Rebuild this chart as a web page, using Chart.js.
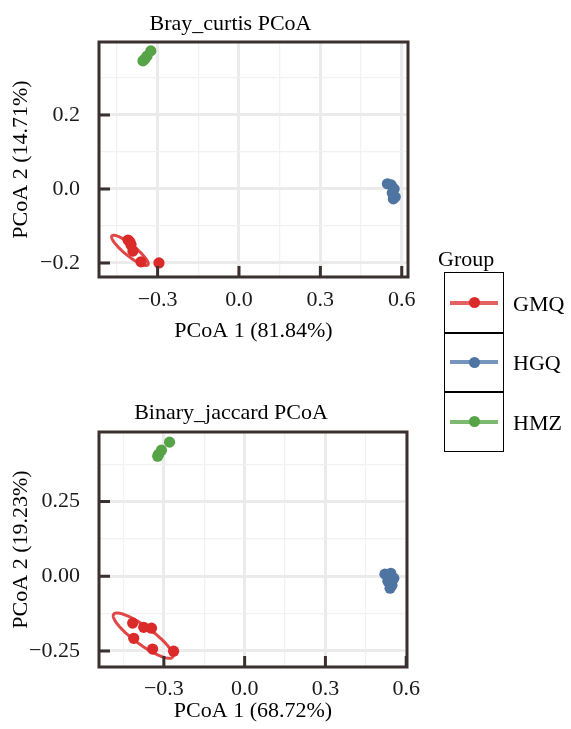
<!DOCTYPE html>
<html><head><meta charset="utf-8">
<script src="https://cdn.jsdelivr.net/npm/chart.js@4.4.0/dist/chart.umd.min.js"></script>
<style>
html,body{margin:0;padding:0;background:#fff;width:571px;height:729px;overflow:hidden;position:relative;font-family:"Liberation Serif",serif;}
canvas{position:absolute;left:0;}
#c1{top:0px;}
#c2{top:390px;}
.lg{position:absolute;font-size:22px;line-height:22px;height:22px;color:#000;white-space:nowrap;font-family:"Liberation Serif",serif;}
.abs{position:absolute;}
</style></head><body>
<canvas id="c1" width="440" height="350"></canvas>
<canvas id="c2" width="440" height="339"></canvas>
<div id="legend"></div>
<script>
// ---------- data ----------
const groups = ['GMQ', 'HGQ', 'HMZ'];

// Bray_curtis PCoA
const bcGMQ_x = [-0.409, -0.402, -0.398, -0.391, -0.361, -0.295];
const bcGMQ_y = [-0.138, -0.143, -0.151, -0.168, -0.197, -0.200];
const bcHGQ_x = [0.547, 0.561, 0.572, 0.565, 0.576, 0.569];
const bcHGQ_y = [0.014, 0.011, 0.000, -0.011, -0.022, -0.027];
const bcHMZ_x = [-0.354, -0.347, -0.339, -0.325];
const bcHMZ_y = [0.346, 0.351, 0.359, 0.373];
const bcGMQ_ellipse = {cx: -0.402, cy: -0.166, ax: 0.0662, ay: -0.0392, bx: -0.0127, by: -0.0116};

// Binary_jaccard PCoA
const bjGMQ_x = [-0.416, -0.375, -0.346, -0.412, -0.342, -0.264];
const bjGMQ_y = [-0.157, -0.171, -0.174, -0.208, -0.244, -0.251];
const bjHGQ_x = [0.521, 0.543, 0.554, 0.532, 0.547, 0.540];
const bjHGQ_y = [0.007, 0.010, -0.007, -0.017, -0.030, -0.040];
const bjHMZ_x = [-0.323, -0.320, -0.309, -0.279];
const bjHMZ_y = [0.402, 0.408, 0.422, 0.449];
const bjGMQ_ellipse = {cx: -0.377, cy: -0.199, ax: 0.1093, ay: -0.0720, bx: -0.0196, by: -0.0243};

// ticks
const xTickValues = [-0.3, 0, 0.3, 0.6];
const xTickLabels = ['\u22120.3', '0.0', '0.3', '0.6'];
const xMinorValues = [-0.45, -0.15, 0.15, 0.45];
const bcYTickValues = [-0.2, 0, 0.2];
const bcYTickLabels = ['\u22120.2', '0.0', '0.2'];
const bcYMinorValues = [-0.1, 0.1, 0.3];
const bjYTickValues = [-0.25, 0, 0.25];
const bjYTickLabels = ['\u22120.25', '0.00', '0.25'];
const bjYMinorValues = [-0.125, 0.125, 0.375];

// ---------- style ----------
const FONT = '"Liberation Serif", "Times New Roman", serif';
const groupColors = ['#DA2A2A', '#4E75A2', '#56A447'];
const groupLineColors = ['#E46262', '#7595BC', '#7DBA6F'];
const ellipseColor = 'rgba(222,45,45,0.88)';
const frameColor = '#3A302E';

function near(a, b) { return Math.abs(a - b) < 1e-9; }
function isMajor(v, major) { return major.some(m => near(m, v)); }
function labelFor(v, major, labels) { const i = major.findIndex(m => near(m, v)); return i < 0 ? '' : labels[i]; }
function pts(xs, ys) { return xs.map((x, i) => ({x: x, y: ys[i]})); }

function makeAxis(o) {
  return {
    type: 'linear', min: o.min, max: o.max,
    afterBuildTicks: s => {
      s.ticks = o.major.concat(o.minor).filter(v => v >= o.min && v <= o.max).sort((a, b) => a - b).map(v => ({value: v}));
    },
    afterFit: s => { if (o.isX) s.height = o.size; else s.width = o.size; },
    grid: {
      drawTicks: false,
      color: c => (c.tick && isMajor(c.tick.value, o.major)) ? '#EBEBEB' : '#F4F0F0',
      lineWidth: c => (c.tick && isMajor(c.tick.value, o.major)) ? 3 : 1.2
    },
    border: {display: false},
    ticks: {
      autoSkip: false, maxRotation: 0, minRotation: 0, padding: o.tickPad,
      color: '#1a1a1a', font: {family: FONT, size: 22, lineHeight: 1.2},
      callback: v => labelFor(v, o.major, o.labels)
    },
    title: {display: true, text: o.title, color: '#000', font: {family: FONT, size: 22, lineHeight: 1.2}, padding: o.titlePad}
  };
}

const panelDecor = {
  id: 'panelDecor',
  afterLayout(chart, args, opts) {
    const tb = chart.titleBlock;
    if (tb && opts.titleCenter) {
      const half = (chart.chartArea.right - chart.chartArea.left) / 2;
      tb.left = opts.titleCenter - half;
      tb.right = opts.titleCenter + half;
    }
  },
  beforeDatasetsDraw(chart, args, opts) {
    const e = opts.ellipse; if (!e) return;
    const xs = chart.scales.x, ys = chart.scales.y, ctx = chart.ctx;
    ctx.save();
    ctx.beginPath();
    for (let i = 0; i <= 120; i++) {
      const t = i / 120 * Math.PI * 2;
      const vx = e.cx + e.ax * Math.cos(t) + e.bx * Math.sin(t);
      const vy = e.cy + e.ay * Math.cos(t) + e.by * Math.sin(t);
      const px = xs.getPixelForValue(vx), py = ys.getPixelForValue(vy);
      if (i === 0) ctx.moveTo(px, py); else ctx.lineTo(px, py);
    }
    ctx.closePath();
    ctx.strokeStyle = ellipseColor; ctx.lineWidth = 3; ctx.stroke();
    ctx.restore();
  },
  afterDatasetsDraw(chart, args, opts) {
    const ctx = chart.ctx, a = chart.chartArea;
    const xs = chart.scales.x, ys = chart.scales.y;
    ctx.save();
    ctx.strokeStyle = frameColor; ctx.lineWidth = 3;
    ctx.beginPath();
    opts.xMajor.forEach(v => { const p = xs.getPixelForValue(v); if (p >= a.left - 1 && p <= a.right + 1) { ctx.moveTo(p, a.bottom); ctx.lineTo(p, a.bottom - 11); } });
    opts.yMajor.forEach(v => { const p = ys.getPixelForValue(v); ctx.moveTo(a.left, p); ctx.lineTo(a.left + 11, p); });
    ctx.stroke();
    ctx.strokeRect(a.left, a.top, a.right - a.left, a.bottom - a.top);
    ctx.restore();
  }
};

function makePanel(id, p) {
  const datasets = p.series.map((s, i) => ({
    label: groups[i], data: pts(s[0], s[1]),
    pointRadius: 5.6, pointBorderWidth: 0, pointBackgroundColor: groupColors[i], backgroundColor: groupColors[i]
  }));
  return new Chart(document.getElementById(id), {
    type: 'scatter',
    data: {datasets: datasets},
    options: {
      responsive: false, animation: false, devicePixelRatio: 1, events: [],
      layout: {padding: p.padding},
      plugins: {
        legend: {display: false}, tooltip: {enabled: false},
        title: {display: true, text: p.title, color: '#000', font: {family: FONT, size: 22, weight: 'normal', lineHeight: 1.2}, padding: p.titlePad},
        panelDecor: {ellipse: p.ellipse, xMajor: xTickValues, yMajor: p.yMajor, titleCenter: p.titleCenter}
      },
      scales: {
        x: makeAxis({isX: true, min: p.xMin, max: p.xMax, major: xTickValues, minor: xMinorValues, labels: xTickLabels, size: p.xSize, tickPad: p.xTickPad, title: p.xTitle, titlePad: p.xTitlePad}),
        y: makeAxis({isX: false, min: p.yMin, max: p.yMax, major: p.yMajor, minor: p.yMinor, labels: p.yLabels, size: p.ySize, tickPad: 19, title: p.yTitle, titlePad: p.yTitlePad})
      }
    },
    plugins: [panelDecor]
  });
}

makePanel('c1', {
  title: 'Bray_curtis PCoA', titlePad: {top: 11, bottom: 4.6}, titleCenter: 230.5,
  series: [[bcGMQ_x, bcGMQ_y], [bcHGQ_x, bcHGQ_y], [bcHMZ_x, bcHMZ_y]],
  ellipse: bcGMQ_ellipse,
  padding: {left: 0, right: 32, top: 0, bottom: 0},
  xMin: -0.516, xMax: 0.623, yMin: -0.238, yMax: 0.397,
  yMajor: bcYTickValues, yMinor: bcYMinorValues, yLabels: bcYTickLabels,
  xSize: 73, ySize: 99, xTickPad: 10,
  xTitle: 'PCoA 1 (81.84%)', xTitlePad: {top: 0, bottom: 5.8},
  yTitle: 'PCoA 2 (14.71%)', yTitlePad: {top: 8, bottom: 0}
});

makePanel('c2', {
  title: 'Binary_jaccard PCoA', titlePad: {top: 9.8, bottom: 5.8}, titleCenter: 231,
  series: [[bjGMQ_x, bjGMQ_y], [bjHGQ_x, bjHGQ_y], [bjHMZ_x, bjHMZ_y]],
  ellipse: bjGMQ_ellipse,
  padding: {left: 0, right: 33, top: 0, bottom: 0},
  xMin: -0.541, xMax: 0.603, yMin: -0.304, yMax: 0.483,
  yMajor: bjYTickValues, yMinor: bjYMinorValues, yLabels: bjYTickLabels,
  xSize: 62, ySize: 99, xTickPad: 9,
  xTitle: 'PCoA 1 (68.72%)', xTitlePad: {top: 0, bottom: 4.3},
  yTitle: 'PCoA 2 (19.23%)', yTitlePad: {top: 8, bottom: 0}
});

// ---------- legend ----------
(function () {
  const lg = document.getElementById('legend');
  function el(cls, css, text) { const d = document.createElement('div'); d.className = cls; Object.assign(d.style, css); if (text) d.textContent = text; lg.appendChild(d); return d; }
  el('lg', {left: '438px', top: '248px'}, 'Group');
  el('abs', {left: '444px', top: '272px', width: '60px', height: '180px', border: '1.6px solid #000', boxSizing: 'border-box'});
  [333, 392].forEach(y => el('abs', {left: '444px', top: (y - 0.8) + 'px', width: '60px', height: '1.6px', background: '#000'}));
  groups.forEach((g, i) => {
    const cy = 302.7 + i * 59.5;
    el('abs', {left: '450px', top: (cy - 2) + 'px', width: '48px', height: '4px', background: groupLineColors[i]});
    el('abs', {left: '469px', top: (cy - 5.5) + 'px', width: '11px', height: '11px', borderRadius: '50%', background: groupColors[i]});
    el('lg', {left: '513px', top: (cy - 10) + 'px'}, g);
  });
})();
</script>
</body></html>
